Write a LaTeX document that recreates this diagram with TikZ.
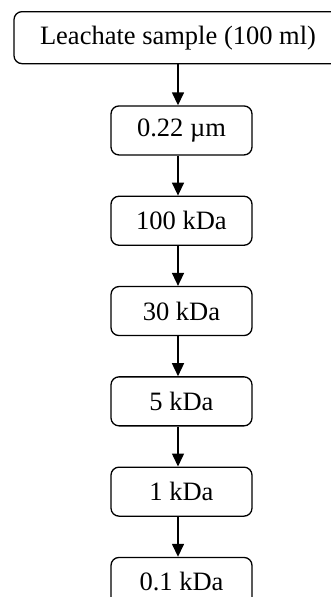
\documentclass[tikz,border=0pt]{standalone}
\usepackage{fontspec}
\setmainfont{Liberation Serif}
\usetikzlibrary{arrows.meta, positioning}

\begin{document}
\begin{tikzpicture}[
    node distance=40pt,
    block/.style={draw, line width=1.3pt, rounded corners=8pt, minimum width=141pt, minimum height=49pt, align=center, font=\fontsize{26.5}{30}\selectfont},
    arrow/.style={-{Triangle[width=12pt,length=13pt]}, line width=1.5pt}
]
\useasboundingbox (0,0) rectangle (330pt,-597pt);
\node[block, minimum width=328pt, minimum height=52pt, anchor=north] (sample) at (178pt,-11pt) {Leachate sample (100 ml)};
\node[block, below=41pt of sample, xshift=3.5pt] (f022) {0.22 µm};
\node[block, below=of f022] (f100) {100 kDa};
\node[block, below=of f100] (f30) {30 kDa};
\node[block, below=of f30] (f5) {5 kDa};
\node[block, below=of f5] (f1) {1 kDa};
\node[block, below=of f1] (f01) {0.1 kDa};

\draw[arrow] (sample.south) -- (f022.north -| sample.south);
\draw[arrow] (f022.south -| sample.south) -- (f100.north -| sample.south);
\draw[arrow] (f100.south -| sample.south) -- (f30.north -| sample.south);
\draw[arrow] (f30.south -| sample.south) -- (f5.north -| sample.south);
\draw[arrow] (f5.south -| sample.south) -- (f1.north -| sample.south);
\draw[arrow] (f1.south -| sample.south) -- (f01.north -| sample.south);
\end{tikzpicture}
\end{document}
